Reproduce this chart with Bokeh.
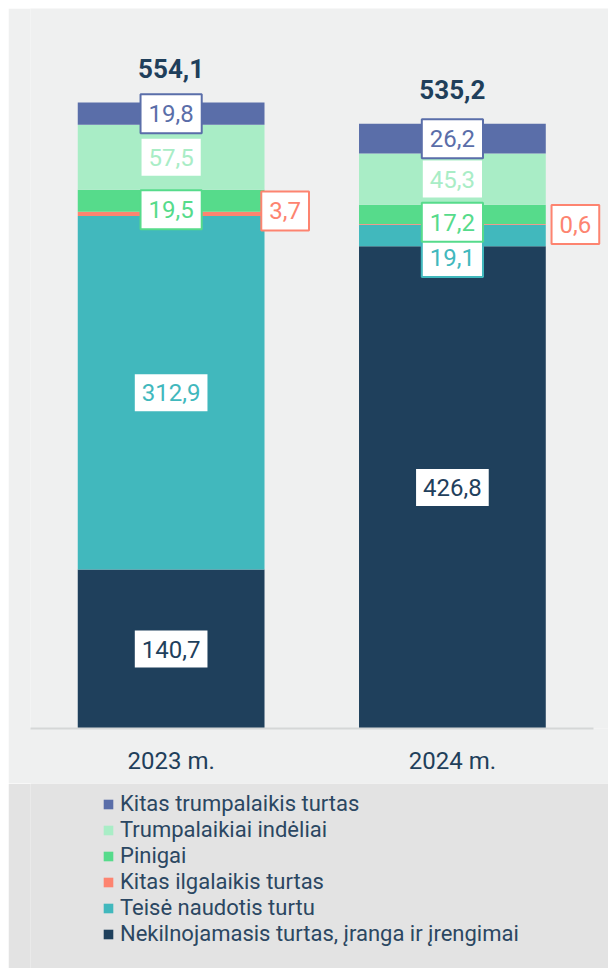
from bokeh.plotting import figure
from bokeh.models import ColumnDataSource, Range1d, Legend, LegendItem, FixedTicker
from bokeh.layouts import column
from bokeh.embed import file_html
from bokeh.resources import INLINE
from bokeh.core.properties import value

# ---------------- data ----------------
years = ["2023 m.", "2024 m."]
series_names = [
    "Nekilnojamasis turtas, įranga ir įrengimai",
    "Teisė naudotis turtu",
    "Kitas ilgalaikis turtas",
    "Pinigai",
    "Trumpalaikiai indėliai",
    "Kitas trumpalaikis turtas",
]
nekilnojamasis = [140.7, 426.8]
teise_naudotis = [312.9, 19.1]
kitas_ilgalaikis = [3.7, 0.6]
pinigai = [19.5, 17.2]
indeliai = [57.5, 45.3]
kitas_trumpalaikis = [19.8, 26.2]
totals = [554.1, 535.2]
total_labels = ["554,1", "535,2"]

# ---------------- style ----------------
colors = ["#1f405c", "#41b8bd", "#fd8470", "#56db8b", "#a9edc6", "#5a6ea9"]
BG = "#eff0f0"
LEG_BG = "#e3e3e3"
DARK = "#1f3f5b"
FONT = "Roboto"
# per-label pixel nudges (series index, year index) -> (dx, dy)
nudges = {(2, 0): (114, -3), (3, 0): (0, 9), (1, 1): (0, 22), (2, 1): (123, 0), (3, 1): (0, 8)}

values_by_series = [nekilnojamasis, teise_naudotis, kitas_ilgalaikis, pinigai, indeliai, kitas_trumpalaikis]
keys = ["s%d" % i for i in range(len(series_names))]
xpos = [i + 0.5 for i in range(len(years))]

src = ColumnDataSource(dict(x=xpos, **{k: v for k, v in zip(keys, values_by_series)}))

p = figure(x_range=Range1d(0, 2.055), y_range=Range1d(0, 637.3),
           width=600, height=775, output_backend="svg", toolbar_location=None,
           y_axis_location=None, min_border_left=22, min_border_right=0,
           min_border_top=0, min_border_bottom=55,
           background_fill_color=BG, border_fill_color=BG, outline_line_color=None)

p.vbar_stack(keys, x="x", width=0.664, fill_color=colors, line_color=None, source=src)

# segment labels
lx, ly, lt, lc, lxo, lyo = [], [], [], [], [], []
for j, xv in enumerate(xpos):
    base = 0.0
    for i, vals in enumerate(values_by_series):
        v = vals[j]
        lx.append(xv)
        ly.append(base + v / 2.0)
        lt.append(("%.1f" % v).replace(".", ","))
        lc.append(colors[i])
        dx, dy = nudges.get((i, j), (0, 0))
        lxo.append(dx)
        lyo.append(dy)
        base += v

lsrc = ColumnDataSource(dict(x=lx, y=ly, t=lt, c=lc, xo=lxo, yo=lyo))
p.text(x="x", y="y", text="t", source=lsrc, text_color="c",
       text_font=value(FONT), text_font_size="24px", text_align="center",
       text_baseline="middle", x_offset="xo", y_offset="yo",
       background_fill_color="white", border_line_color="c", border_line_width=2,
       padding=dict(left=8, right=8, top=11, bottom=11))

# totals
tsrc = ColumnDataSource(dict(x=xpos, y=totals, t=total_labels))
p.text(x="x", y="y", text="t", source=tsrc, text_color=DARK,
       text_font=value(FONT), text_font_size="26px", text_font_style="bold",
       text_align="center", text_baseline="middle", y_offset=-34)

p.xgrid.grid_line_color = None
p.ygrid.grid_line_color = None
p.xaxis.ticker = FixedTicker(ticks=xpos)
p.xaxis.major_label_overrides = {xv: yr for xv, yr in zip(xpos, years)}
p.xaxis.bounds = (0, len(years))
p.xaxis.axis_line_color = "#d5d7d7"
p.xaxis.axis_line_width = 2
p.xaxis.major_tick_line_color = None
p.xaxis.minor_tick_line_color = None
p.xaxis.major_label_text_font = FONT
p.xaxis.major_label_text_font_size = "24px"
p.xaxis.major_label_text_color = DARK
p.xaxis.major_label_standoff = 12

# ---------------- legend panel ----------------
q = figure(width=600, height=185, x_range=Range1d(0, 1), y_range=Range1d(0, 1),
           output_backend="svg", toolbar_location=None,
           x_axis_location=None, y_axis_location=None,
           min_border_left=22, min_border_top=0, min_border_right=0, min_border_bottom=0,
           background_fill_color=LEG_BG, border_fill_color=LEG_BG, outline_line_color=None)
q.xgrid.grid_line_color = None
q.ygrid.grid_line_color = None

items = []
for i in reversed(range(len(series_names))):
    # legend proxy: zero-height bar outside the visible range
    r = q.vbar(x=[-5], top=[0], width=0.01, fill_color=colors[i], line_color=None)
    items.append(LegendItem(label=series_names[i], renderers=[r]))

legend = Legend(items=items, location=(72, 22), margin=0, padding=0, spacing=1,
                glyph_width=12, glyph_height=12, label_standoff=6,
                label_text_font=FONT, label_text_font_size="22px",
                label_text_color="#2b4762", background_fill_alpha=0,
                border_line_color=None)
q.add_layout(legend)

layout = column(p, q, spacing=0, margin=(8, 0, 0, 8))
open("out.html", "w").write(file_html(layout, INLINE))
